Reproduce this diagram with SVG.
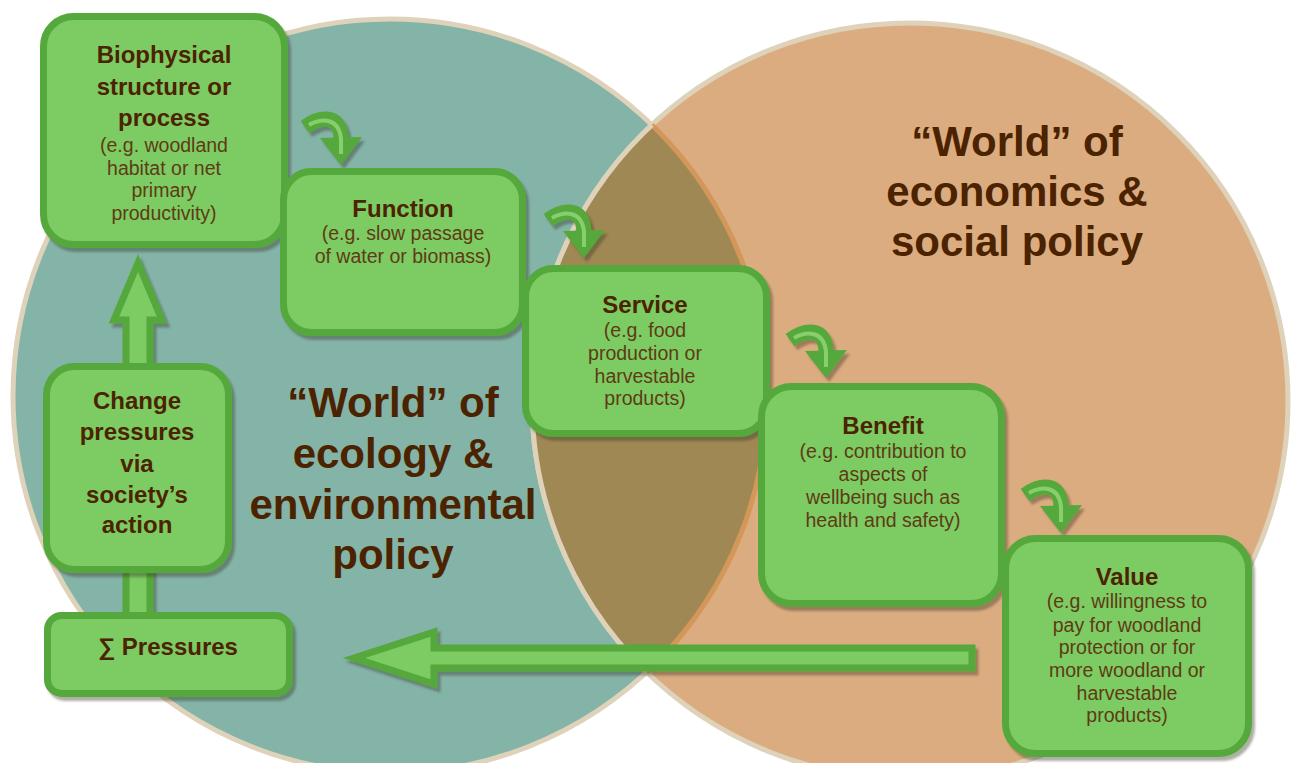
<svg xmlns="http://www.w3.org/2000/svg" width="1294" height="763" viewBox="0 0 1294 763">
<defs>
<style>
.box{fill:#7CCB63;stroke:#55A83A;stroke-width:7;filter:url(#sh)}
.arr{fill:#7CCB63;stroke:#55A83A;stroke-width:7;filter:url(#sh)}
.t{font-family:"Liberation Sans",Arial,sans-serif;font-weight:bold;font-size:24px;fill:#4C2300;text-anchor:middle}
.s{font-family:"Liberation Sans",Arial,sans-serif;font-size:19.5px;fill:#5E3B14;text-anchor:middle}
.big{font-family:"Liberation Sans",Arial,sans-serif;font-weight:bold;font-size:42px;fill:#4C2300;text-anchor:middle}
</style>
<filter id="sh" x="-20%" y="-20%" width="150%" height="150%">
<feDropShadow dx="3" dy="4" stdDeviation="1.2" flood-color="#3a3a20" flood-opacity="0.4"/>
</filter>
<clipPath id="clipL"><circle cx="390" cy="396" r="377"/></clipPath>
<clipPath id="clipR"><circle cx="910" cy="401" r="378"/></clipPath>
<g id="curv">
<path d="M5,17 C19,7 41,2 41,30" fill="none" stroke="#55A83A" stroke-width="15"/>
<path d="M20,28 L62,27 L41,55 Z" fill="#55A83A"/>
<path d="M9,15 C20,9 38,6 41,28 L41,44" fill="none" stroke="#86CF6C" stroke-width="4"/>
</g>
</defs>
<rect width="1294" height="763" fill="#ffffff"/>
<g id="circles">
<circle cx="390" cy="396" r="377" fill="#84B3A7" stroke="#DFD2BA" stroke-width="5"/>
<circle cx="910" cy="401" r="378" fill="#DBAC7F" stroke="#DFD2BA" stroke-width="5"/>
<circle cx="910" cy="401" r="378" fill="#9F8853" clip-path="url(#clipL)"/>
<circle cx="390" cy="396" r="377" fill="none" stroke="#D4975A" stroke-width="5" clip-path="url(#clipR)"/>
<circle cx="910" cy="401" r="378" fill="none" stroke="#DFD2BA" stroke-width="5" clip-path="url(#clipL)"/>
</g>
<g id="labels">
<text class="big" x="393" y="417">“World” of</text>
<text class="big" x="393" y="468">ecology &amp;</text>
<text class="big" x="393" y="519">environmental</text>
<text class="big" x="393" y="569">policy</text>
<text class="big" x="1017" y="156">“World” of</text>
<text class="big" x="1017" y="206">economics &amp;</text>
<text class="big" x="1017" y="256">social policy</text>
</g>
<g id="connectors">
<path class="arr" d="M138,263 L162,320 L150,320 L150,616 L126,616 L126,320 L114,320 Z"/>
<path class="arr" d="M354,658 L434,632 L434,648 L972,648 L972,668 L434,668 L434,684 Z"/>
<use href="#curv" x="300" y="110" filter="url(#sh)"/>
<use href="#curv" x="543" y="203" filter="url(#sh)"/>
<use href="#curv" x="785" y="323" filter="url(#sh)"/>
<use href="#curv" x="1020" y="478" filter="url(#sh)"/>
</g>
<g id="node-biophysical">
<rect class="box" x="43.5" y="16.5" width="241" height="228" rx="30"/>
<text class="t" x="164" y="63">Biophysical</text>
<text class="t" x="164" y="95">structure or</text>
<text class="t" x="164" y="126">process</text>
<text class="s" x="164" y="152">(e.g. woodland</text>
<text class="s" x="164" y="175">habitat or net</text>
<text class="s" x="164" y="197">primary</text>
<text class="s" x="164" y="220">productivity)</text>
</g>
<g id="node-function">
<rect class="box" x="283.5" y="171.5" width="239" height="161" rx="28"/>
<text class="t" x="403" y="217">Function</text>
<text class="s" x="403" y="240">(e.g. slow passage</text>
<text class="s" x="403" y="263">of water or biomass)</text>
</g>
<g id="node-service">
<rect class="box" x="525.5" y="268.5" width="241" height="165" rx="28"/>
<text class="t" x="645" y="313">Service</text>
<text class="s" x="645" y="337">(e.g. food</text>
<text class="s" x="645" y="360">production or</text>
<text class="s" x="645" y="383">harvestable</text>
<text class="s" x="645" y="405">products)</text>
</g>
<g id="node-benefit">
<rect class="box" x="761.5" y="386.5" width="240" height="217" rx="30"/>
<text class="t" x="883" y="434">Benefit</text>
<text class="s" x="883" y="458">(e.g. contribution to</text>
<text class="s" x="883" y="481">aspects of</text>
<text class="s" x="883" y="504">wellbeing such as</text>
<text class="s" x="883" y="527">health and safety)</text>
</g>
<g id="node-value">
<rect class="box" x="1005.5" y="538.5" width="243" height="215" rx="30"/>
<text class="t" x="1127" y="585">Value</text>
<text class="s" x="1127" y="608">(e.g. willingness to</text>
<text class="s" x="1127" y="632">pay for woodland</text>
<text class="s" x="1127" y="654">protection or for</text>
<text class="s" x="1127" y="677">more woodland or</text>
<text class="s" x="1127" y="700">harvestable</text>
<text class="s" x="1127" y="722">products)</text>
</g>
<g id="node-change">
<rect class="box" x="46.5" y="366.5" width="182" height="203" rx="28"/>
<text class="t" x="137" y="409">Change</text>
<text class="t" x="137" y="440">pressures</text>
<text class="t" x="137" y="472">via</text>
<text class="t" x="137" y="503">society’s</text>
<text class="t" x="137" y="533">action</text>
</g>
<g id="node-pressures">
<rect class="box" x="47.5" y="615.5" width="242" height="78" rx="14"/>
<text class="t" x="168" y="655">∑ Pressures</text>
</g>
</svg>
